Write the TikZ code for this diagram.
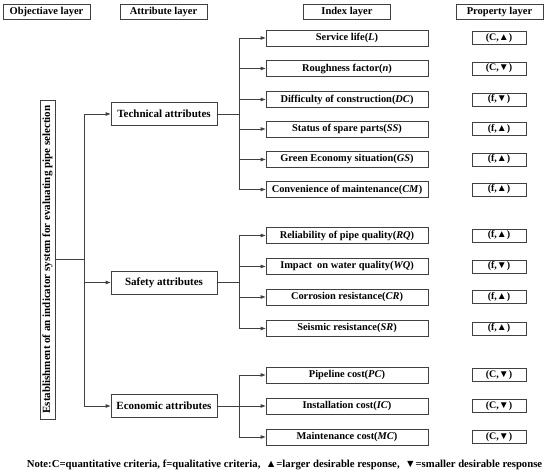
\documentclass[tikz,border=0pt]{standalone}
\usepackage{fontspec}
\setmainfont{Liberation Serif}
\usetikzlibrary{arrows.meta}
\begin{document}
\begin{tikzpicture}[x=1pt,y=-1pt,
  line width=0.9pt,
  every node/.style={draw=black!75, line width=0.9pt, inner sep=0pt, font=\bfseries\fontsize{10.4}{12}\selectfont},
  hdr/.style={minimum width=87pt, minimum height=15pt, font=\bfseries\fontsize{10.5}{12}\selectfont},
  attr/.style={minimum width=106pt, minimum height=23pt, font=\bfseries\fontsize{11}{13}\selectfont},
  idx/.style={minimum width=162pt, minimum height=16pt},
  prop/.style={minimum width=54pt, minimum height=13pt, font=\bfseries\fontsize{10}{11}\selectfont},
  link/.style={draw=black!75},
  arr/.style={draw=black!75, -{Triangle[length=5pt,width=3.5pt]}}]
\useasboundingbox (0,0) rectangle (550,473);
% headers
\node[hdr] (h1) at (46.5,11.5) {Objectiave layer};
\node[hdr] (h2) at (163.5,11.5) {Attribute layer};
\node[hdr] (h3) at (347,11.5) {Index layer};
\node[hdr] (h4) at (499.5,11.5) {Property layer};
% objective
\node[minimum width=319pt, minimum height=15pt, rotate=90, font=\bfseries\fontsize{11}{12}\selectfont] (O) at (47.5,259.5)
  {Establishment of an indicator system for evaluating pipe selection};
% attributes
\node[attr] (T) at (164,114) {Technical attributes};
\node[attr] (S) at (164,282.5) {Safety attributes};
\node[attr] (E) at (164,406) {Economic attributes};
% index nodes
\node[idx] (i1) at (347,38) {Service life(\textit{L})};
\node[idx] (i2) at (347,68.5) {Roughness factor(\textit{n})};
\node[idx] (i3) at (347,99.5) {Difficulty of construction(\textit{DC})};
\node[idx] (i4) at (347,129) {Status of spare parts(\textit{SS})};
\node[idx] (i5) at (347,159.5) {Green Economy situation(\textit{GS})};
\node[idx] (i6) at (347,189.5) {Convenience of maintenance(\textit{CM})};
\node[idx] (i7) at (347,235.5) {Reliability of pipe quality(\textit{RQ})};
\node[idx] (i8) at (347,266.5) {Impact\ \ on water quality(\textit{WQ})};
\node[idx] (i9) at (347,297) {Corrosion resistance(\textit{CR})};
\node[idx] (i10) at (347,328.5) {Seismic resistance(\textit{SR})};
\node[idx] (i11) at (347,375) {Pipeline cost(\textit{PC})};
\node[idx] (i12) at (347,406) {Installation cost(\textit{IC})};
\node[idx] (i13) at (347,437) {Maintenance cost(\textit{MC})};
% property nodes
\node[prop] (p1) at (499,38) {(C,▲)};
\node[prop] (p2) at (499,68.5) {(C,▼)};
\node[prop] (p3) at (499,99.5) {(f,▼)};
\node[prop] (p4) at (499,129) {(f,▲)};
\node[prop] (p5) at (499,159.5) {(f,▲)};
\node[prop] (p6) at (499,189.5) {(f,▲)};
\node[prop] (p7) at (499,235.5) {(f,▲)};
\node[prop] (p8) at (499,266.5) {(f,▼)};
\node[prop] (p9) at (499,297) {(f,▲)};
\node[prop] (p10) at (499,328.5) {(f,▲)};
\node[prop] (p11) at (499,375) {(C,▼)};
\node[prop] (p12) at (499,406) {(C,▼)};
\node[prop] (p13) at (499,437) {(C,▼)};
% objective to attributes
\draw[link] (O.south) -- ++(29,0) coordinate (ob);
\foreach \a in {T,S,E} \draw[arr] (ob) |- (\a.west);
% attributes to indexes
\coordinate (tb) at ([xshift=22pt]T.east);
\coordinate (sb) at ([xshift=22pt]S.east);
\coordinate (eb) at ([xshift=22pt]E.east);
\draw[link] (T.east) -- (tb);
\draw[link] (S.east) -- (sb);
\draw[link] (E.east) -- (eb);
\foreach \i in {i1,i2,i3,i4,i5,i6} \draw[arr] (tb) |- (\i.west);
\foreach \i in {i7,i8,i9,i10} \draw[arr] (sb) |- (\i.west);
\foreach \i in {i11,i12,i13} \draw[arr] (eb) |- (\i.west);
% note
\node[draw=none, font=\bfseries\fontsize{10.7}{12}\selectfont] (note) at (284.5,465)
  {Note:C=quantitative criteria, f=qualitative criteria,\ \ ▲=larger desirable response,\ \ ▼=smaller desirable response};
\end{tikzpicture}
\end{document}
